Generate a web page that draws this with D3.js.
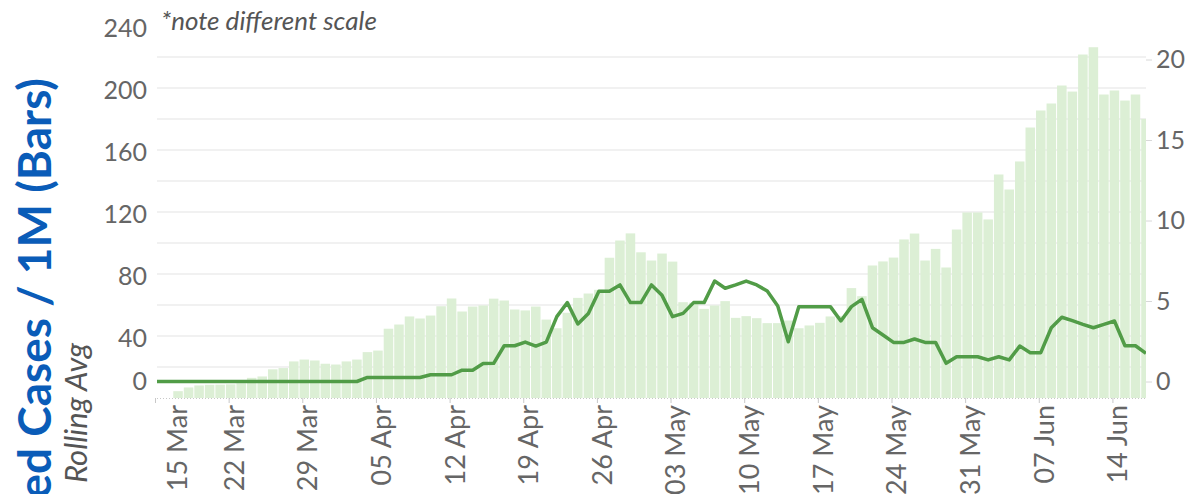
<!DOCTYPE html>
<html>
<head>
<meta charset="utf-8">
<script src="https://cdn.jsdelivr.net/npm/d3@7"></script>
<style>
  body { margin: 0; background: #fff; }
  svg { font-family: Lato, "Open Sans", sans-serif; }
</style>
</head>
<body>
<svg id="chart" width="1189" height="494"></svg>
<script>
// daily values, 15 Mar .. 17 Jun 2020
var startDay = new Date(2020, 2, 15);

var casesPerM = [
  0, 0, 4.4, 6.8, 8.1, 8.5, 8.6, 8.8, 9.5, 13, 13.9, 18.5, 19.3, 23.6, 24.8, 24.2, 22.1,
  21.6, 23.6, 24.8, 29.6, 30.6, 44.7, 47.4, 52.6, 51.3, 53.2, 59.2, 64.2, 55.8, 59, 59.7,
  64.1, 62.9, 57.1, 56.5, 59, 50.6, 45, 55, 64.6, 67.4, 69.8, 90.5, 101.6, 106.2, 94,
  88.7, 93.2, 88, 61.8, 61.5, 57.5, 59.7, 62.5, 51.7, 52.8, 51.5, 48.3, 48.3, 50, 45,
  46.8, 48.5, 52.6, 53, 70.9, 65.7, 85.5, 88.1, 90.6, 102.3, 106.1, 88.7, 96.2, 84.2, 108.7, 119.7,
  119.7, 115.2, 144.2, 134.5, 152.6, 174.5, 185.5, 190, 201.6, 197.7, 221.6, 226.3, 195.8,
  198.4, 191.9, 195.8, 180.1
];

var rollingAvg = [
  0, 0, 0, 0, 0, 0, 0, 0, 0, 0, 0, 0, 0, 0, 0, 0, 0,
  0, 0, 0, 0.25, 0.25, 0.25, 0.25, 0.25, 0.25, 0.42, 0.42, 0.42, 0.7, 0.7, 1.12,
  1.13, 2.22, 2.22, 2.45, 2.2, 2.45, 4.03, 4.9, 3.57, 4.23, 5.6, 5.6, 6.0, 4.9, 4.9,
  6.0, 5.35, 4.03, 4.23, 4.9, 4.9, 6.24, 5.79, 6.0, 6.24, 6.0, 5.62, 4.69, 2.47, 4.65,
  4.65, 4.65, 4.65, 3.76, 4.65, 5.1, 3.34, 2.89, 2.43, 2.43, 2.64, 2.43, 2.43, 1.13, 1.54, 1.54,
  1.54, 1.34, 1.54, 1.34, 2.2, 1.79, 1.79, 3.34, 3.99, 3.78, 3.55, 3.34, 3.55,
  3.76, 2.22, 2.22, 1.75
];

var leftTicks = [0, 40, 80, 120, 160, 200, 240];
var rightTicks = [0, 5, 10, 15, 20];
var gridValues = [20, 40, 60, 80, 100, 120, 140, 160, 180, 200, 220];

var dates = casesPerM.map(function(v, i) { return d3.timeDay.offset(startDay, i); });

var svg = d3.select("#chart"),
    left = 157,
    right = 1146,
    bottom = 398;

var x = d3.scaleTime()
          .domain([startDay, dates[dates.length - 1]])
          .range([left, right]);

var yBars = d3.scaleLinear().domain([0, 240]).range([bottom, 26]);
var yLine = d3.scaleLinear().domain([0, 20]).range([381.5, 59.5]);

svg.append("defs").append("clipPath").attr("id", "plot")
   .append("rect")
   .attr("x", left).attr("y", 0)
   .attr("width", right - left).attr("height", bottom);

// gridlines
svg.append("g").selectAll("line")
   .data(gridValues)
   .enter().append("line")
   .attr("x1", left).attr("x2", right)
   .attr("y1", function(d) { return yBars(d); })
   .attr("y2", function(d) { return yBars(d); })
   .attr("stroke", "#ececec")
   .attr("stroke-width", 1.5);

// bars
var dayW = x(dates[1]) - x(dates[0]);
svg.append("g").attr("clip-path", "url(#plot)")
   .selectAll("rect")
   .data(casesPerM)
   .enter().append("rect")
   .attr("x", function(d, i) { return x(dates[i]) - dayW / 2 + 0.5; })
   .attr("width", dayW - 1)
   .attr("y", function(d) { return yBars(d); })
   .attr("height", function(d) { return bottom - yBars(d); })
   .attr("fill", "#dcefd5");

// rolling average line
var line = d3.line()
             .x(function(d, i) { return x(dates[i]); })
             .y(function(d) { return yLine(d); });

svg.append("path")
   .datum(rollingAvg)
   .attr("clip-path", "url(#plot)")
   .attr("d", line)
   .attr("fill", "none")
   .attr("stroke", "#519c47")
   .attr("stroke-width", 3.5)
   .attr("stroke-linejoin", "round");

// dotted baseline
svg.append("line")
   .attr("x1", left).attr("x2", right)
   .attr("y1", bottom + 0.5).attr("y2", bottom + 0.5)
   .attr("stroke", "#c8c8c8")
   .attr("stroke-dasharray", "1,2");

// x axis
var xAxis = svg.append("g")
   .attr("transform", "translate(-2," + bottom + ")")
   .call(d3.axisBottom(x)
           .ticks(d3.timeWeek.every(1))
           .tickFormat(d3.timeFormat("%d %b"))
           .tickSize(5));
xAxis.select(".domain").remove();
xAxis.selectAll(".tick line").attr("stroke", "#c8c8c8");
xAxis.selectAll(".tick text")
   .attr("transform", "rotate(-90)")
   .attr("text-anchor", "end")
   .attr("x", -7)
   .attr("y", function(d) { return x(d) - 2 < left + 10 ? 22 : 5; })
   .attr("dy", "0.35em")
   .attr("fill", "#666")
   .style("font-size", "27px")
   .style("font-family", "Lato");

// left axis
var yAxisL = svg.append("g")
   .attr("transform", "translate(" + left + ",0)")
   .call(d3.axisLeft(yBars).tickValues(leftTicks).tickSize(0).tickPadding(10));
yAxisL.select(".domain").remove();
yAxisL.selectAll(".tick text")
   .attr("y", function(d) { return d === 0 ? -17 : 2; })
   .attr("fill", "#666")
   .style("font-size", "25px")
   .style("font-family", "Lato");

// right axis
var yAxisR = svg.append("g")
   .attr("transform", "translate(" + right + ",0)")
   .call(d3.axisRight(yLine).tickValues(rightTicks).tickSize(6).tickPadding(4));
yAxisR.select(".domain").remove();
yAxisR.selectAll(".tick line").attr("stroke", "#d8d8d8");
yAxisR.selectAll(".tick text")
   .attr("fill", "#666")
   .style("font-size", "25px")
   .style("font-family", "Lato");

// titles
svg.append("text")
   .attr("transform", "translate(51,78) rotate(-90)")
   .attr("text-anchor", "end")
   .attr("fill", "#0a5cb8")
   .style("font-size", "46px")
   .style("font-weight", "bold")
   .text("Confirmed Cases / 1M (Bars)");

svg.append("text")
   .attr("transform", "translate(87,343) rotate(-90)")
   .attr("text-anchor", "end")
   .attr("fill", "#555")
   .style("font-size", "31px")
   .style("font-style", "italic")
   .text("Rolling Avg");

svg.append("text")
   .attr("x", 161)
   .attr("y", 30)
   .attr("fill", "#555")
   .style("font-size", "26px")
   .style("font-style", "italic")
   .text("*note different scale");
</script>
</body>
</html>
